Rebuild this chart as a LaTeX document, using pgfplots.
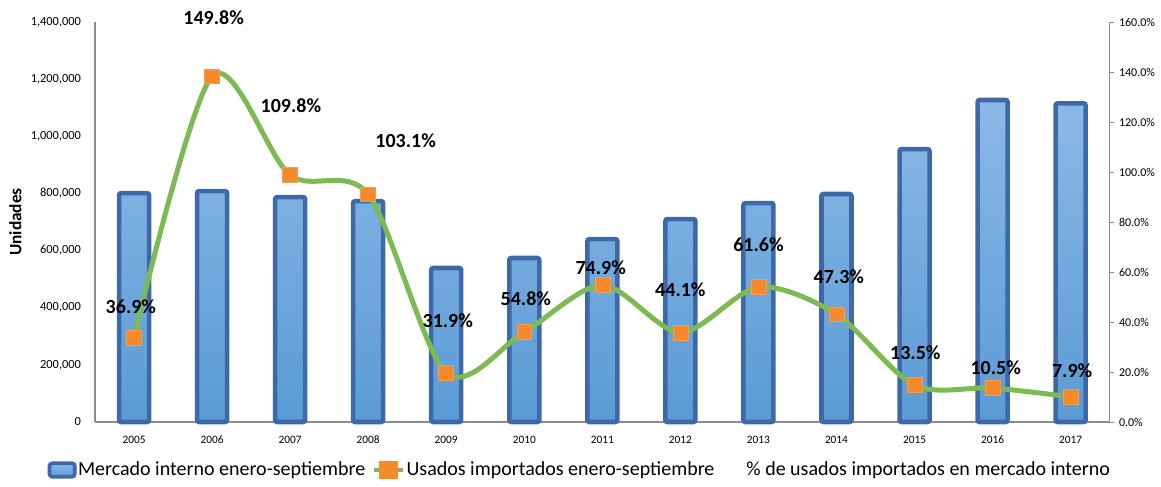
\documentclass[border=0pt]{standalone}
\usepackage{pgfplots}
\usepackage{pgfplotstable}
\pgfplotsset{compat=1.18}
\usepackage{fontspec}
\setmainfont{Carlito}
\definecolor{barfillT}{HTML}{8BB9E6}
\definecolor{barfillB}{HTML}{5A9BD5}
\definecolor{barborder}{HTML}{3D69A9}
\definecolor{lgreen}{HTML}{7DB955}
\definecolor{morange}{HTML}{F58A2C}
\definecolor{axgray}{HTML}{8C8C8C}

\pgfplotstableread{
x market used
0 801000 296000
1 808000 1210000
2 787000 864000
3 773000 797000
4 539000 172000
5 574000 315000
6 640000 479000
7 710000 313000
8 766000 472000
9 798000 377000
10 955000 129000
11 1127000 119000
12 1115000 88000
}\data

\begin{document}
\begin{tikzpicture}
\begin{axis}[
  name=main,
  scale only axis, width=761pt, height=300pt,
  xmin=-0.5, xmax=12.5, ymin=0, ymax=1400000,
  axis x line*=bottom, axis y line*=left,
  axis line style={axgray, line width=0.8pt},
  major tick length=0pt,
  xtick={0,...,12},
  xticklabels={2005,2006,2007,2008,2009,2010,2011,2012,2013,2014,2015,2016,2017},
  xticklabel style={font=\fontsize{8.5}{10}\selectfont, yshift=-7pt},
  ytick={0,200000,...,1400000},
  scaled y ticks=false,
  yticklabel style={font=\fontsize{9.3}{10}\selectfont, xshift=-7pt,
    /pgf/number format/fixed, /pgf/number format/precision=0,
    /pgf/number format/1000 sep={,}, /pgf/number format/assume math mode=true},
  ylabel={\textbf{Unidades}},
  ylabel style={font=\fontsize{13}{14}\selectfont, yshift=0pt},
  clip=false,
  legend columns=3,
  legend style={draw=none, fill=none, at={(0.4775,-0.12)}, anchor=center,
    font=\fontsize{15}{16}\selectfont, column sep=0pt,
    nodes={inner sep=1pt},
    /tikz/every even column/.append style={column sep=4pt}},
]
\addplot[ybar, bar width=22.5pt, top color=barfillT, bottom color=barfillB,
  draw=barborder, line width=3.4pt, rounded corners=1.5pt,
  legend image code/.code={\draw[top color=barfillT, bottom color=barfillB, draw=barborder, line width=2.8pt, rounded corners=2pt] (0pt,-5pt) rectangle (19pt,5pt);}]
  table[x=x, y=market]{\data};
\addlegendentry{Mercado interno enero-septiembre}
\addplot[lgreen, line width=3.75pt, smooth, tension=0.5,
  mark=square*, mark size=5.6pt,
  mark options={solid, line width=0.4pt, fill=morange, draw=morange!85!white},
  legend image code/.code={\draw[lgreen, line width=3pt] (0pt,0pt)--(22pt,0pt); \fill[morange] (6pt,-5pt) rectangle (16pt,5pt);}]
  table[x=x, y=used]{\data};
\addlegendentry{Usados importados enero-septiembre}
\addlegendimage{draw=none, legend image code/.code={\path[draw=none] (0pt,0pt)--(18pt,0pt);}}
\addlegendentry{\% de usados importados en mercado interno}

\begin{scope}[every node/.style={font=\bfseries\fontsize{15}{15}\selectfont}]
\node at (axis cs:-0.04,402500) {36.9\%};
\node at (axis cs:1.02,1414000) {149.8\%};
\node at (axis cs:2.01,1106000) {109.8\%};
\node at (axis cs:3.48,983500) {103.1\%};
\node at (axis cs:4.02,353500) {31.9\%};
\node at (axis cs:5.02,430500) {54.8\%};
\node at (axis cs:5.98,539000) {74.9\%};
\node at (axis cs:7.0,462000) {44.1\%};
\node at (axis cs:8.0,619500) {61.6\%};
\node at (axis cs:9.03,507500) {47.3\%};
\node at (axis cs:10.01,241500) {13.5\%};
\node at (axis cs:11.04,189000) {10.5\%};
\node at (axis cs:12.02,178500) {7.9\%};
\end{scope}
\end{axis}
\begin{axis}[
  scale only axis, width=761pt, height=300pt,
  xmin=-0.5, xmax=12.5, ymin=0, ymax=1.6,
  axis x line=none, axis y line*=right,
  axis line style={axgray, line width=0.8pt},
  tick align=outside, major tick length=3.5pt,
  tick style={axgray, line width=0.6pt},
  ytick={0,0.2,0.4,0.6,0.8,1.0,1.2,1.4,1.6},
  yticklabels={0.0\%,20.0\%,40.0\%,60.0\%,80.0\%,100.0\%,120.0\%,140.0\%,160.0\%},
  yticklabel style={font=\fontsize{9}{10}\selectfont},
]
\addplot[draw=none] coordinates {(0,0)};
\end{axis}
\pgfresetboundingbox
\useasboundingbox (-71.25pt,-48pt) rectangle (799.5pt,316.5pt);
\end{tikzpicture}
\end{document}
